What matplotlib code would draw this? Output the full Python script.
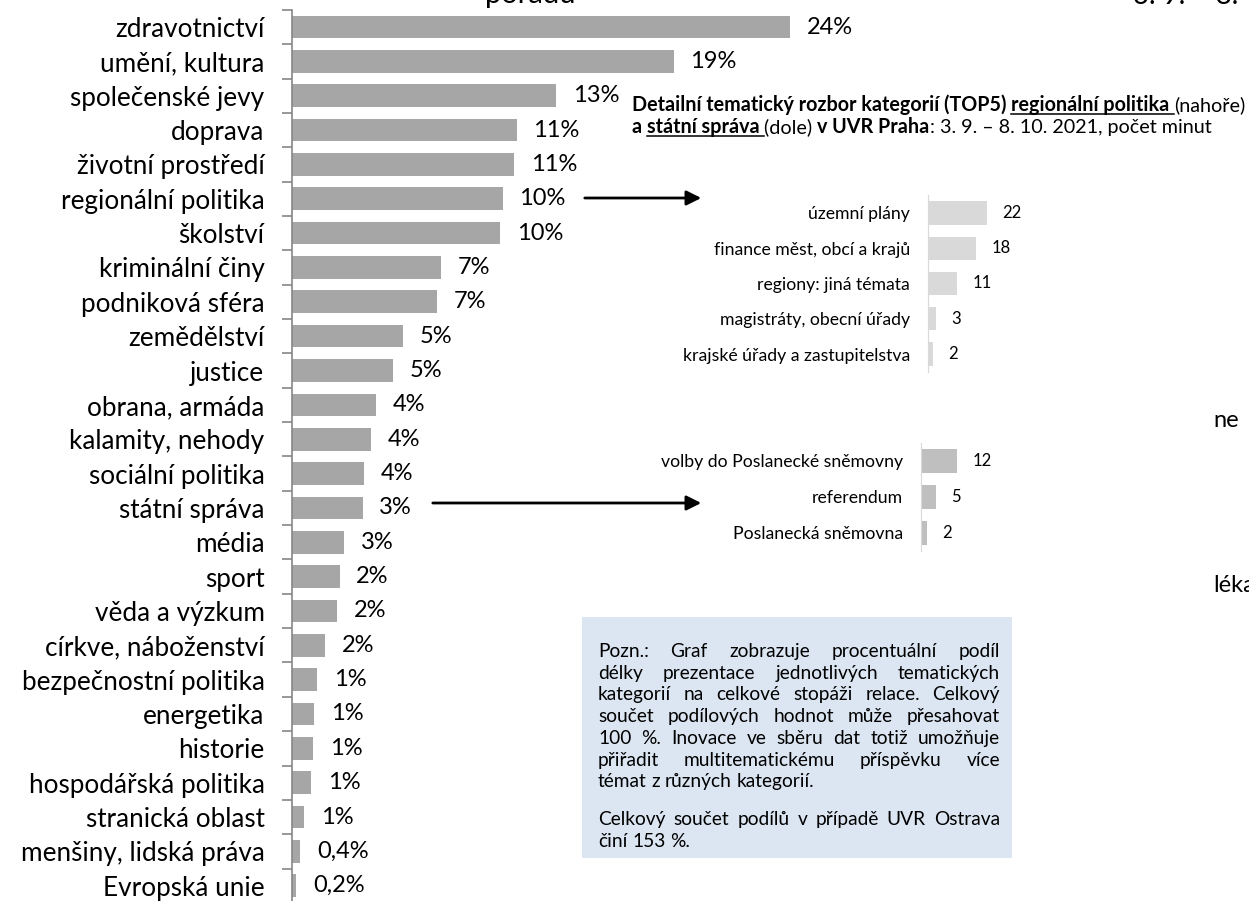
import matplotlib
matplotlib.use("Agg")
import matplotlib.pyplot as plt
from matplotlib.patches import Rectangle, FancyArrowPatch
from matplotlib.lines import Line2D

plt.rcParams['font.family'] = ['Lato', 'DejaVu Sans']

##########
## DATA ##
##########
categories = ["zdravotnictví", "umění, kultura", "společenské jevy", "doprava",
              "životní prostředí", "regionální politika", "školství", "kriminální činy",
              "podniková sféra", "zemědělství", "justice", "obrana, armáda",
              "kalamity, nehody", "sociální politika", "státní správa", "média", "sport",
              "věda a výzkum", "církve, náboženství", "bezpečnostní politika", "energetika",
              "historie", "hospodářská politika", "stranická oblast", "menšiny, lidská práva",
              "Evropská unie"]
shares = [24.4, 18.7, 12.93, 11.0, 10.87, 10.31, 10.18, 7.27, 7.08, 5.41, 4.95, 4.09,
          3.86, 3.52, 3.45, 2.55, 2.32, 2.19, 1.6, 1.21, 1.06, 1.01, 0.92, 0.57, 0.4, 0.2]

regional_topics = ["územní plány", "finance měst, obcí a krajů", "regiony: jiná témata",
                   "magistráty, obecní úřady", "krajské úřady a zastupitelstva"]
regional_minutes = [22, 18, 11, 3, 2]

state_topics = ["volby do Poslanecké sněmovny", "referendum", "Poslanecká sněmovna"]
state_minutes = [12, 5, 2]

note_lines = ["Pozn.: Graf zobrazuje procentuální podíl",
              "délky prezentace jednotlivých tematických",
              "kategorií na celkové stopáži relace. Celkový",
              "součet podílových hodnot může přesahovat",
              "100 %. Inovace ve sběru dat totiž umožňuje",
              "přiřadit multitematickému příspěvku více",
              "témat z různých kategorií.",
              "",
              "Celkový součet podílů v případě UVR Ostrava",
              "činí 153 %."]

W, H = 1249, 901
fig = plt.figure(figsize=(W / 100, H / 100), dpi=100)
renderer = fig.canvas.get_renderer()


def box(left, top, width, height):
    # pixel box (top-left origin) -> figure fraction
    return [left / W, 1 - (top + height) / H, width / W, height / H]


def fmt_share(v):
    if v >= 0.5:
        return f"{round(v)}%"
    return f"{v:.1f}%".replace(".", ",")


####################
## MAIN BAR CHART ##
####################
row = 34.35
ax = fig.add_axes(box(292.3, 27 - 0.5 * row, 600, 26 * row))
ypos = list(range(len(categories)))
ax.barh(ypos, shares, height=0.66, color="#a6a6a6")
ax.set_ylim(len(categories) - 0.5, -0.5)
ax.set_xlim(0, 600 / 20.4)
ax.set_yticks(ypos)
ax.set_yticklabels(categories, fontsize=18.8)
ax.set_yticks([i - 0.5 for i in range(len(categories) + 1)], minor=True)
ax.tick_params(axis="y", which="major", length=0, pad=20)
ax.tick_params(axis="y", which="minor", length=7, width=1.2, color="#868686")
ax.set_xticks([])
for s in ["top", "right", "bottom"]:
    ax.spines[s].set_visible(False)
ax.spines["left"].set_color("#868686")
ax.spines["left"].set_linewidth(1.2)
for i, v in enumerate(shares):
    ax.annotate(fmt_share(v), (v, i), xytext=(12, 0), textcoords="offset points",
                va="center", ha="left", fontsize=17)


##################
## INSET CHARTS ##
##################
def inset(left, top_center, step, scale, topics, minutes, color):
    n = len(topics)
    a = fig.add_axes(box(left, top_center - 0.5 * step, 120, n * step))
    a.barh(range(n), minutes, height=0.66, color=color)
    a.set_ylim(n - 0.5, -0.5)
    a.set_xlim(0, 120 / scale)
    a.set_yticks(range(n))
    a.set_yticklabels(topics, fontsize=12.7)
    a.tick_params(axis="y", length=0, pad=13)
    a.set_xticks([])
    for s in ["top", "right", "bottom"]:
        a.spines[s].set_visible(False)
    a.spines["left"].set_color("#d9d9d9")
    for i, v in enumerate(minutes):
        a.annotate(str(v), (v, i), xytext=(11, 0), textcoords="offset points",
                   va="center", ha="left", fontsize=12)
    return a


inset(928, 213, 35.25, 2.67, regional_topics, regional_minutes, "#d9d9d9")
inset(921, 461, 36, 3.0, state_topics, state_minutes, "#bfbfbf")


def pieces(x, y, parts, size=14.2):
    for txt, bold, under in parts:
        t = fig.text(x / W, 1 - y / H, txt, fontsize=size, va="baseline", ha="left",
                     fontweight="bold" if bold else "normal")
        wdt = t.get_window_extent(renderer).width
        if under:
            fig.add_artist(Line2D([x / W, (x + wdt) / W], [1 - (y + 2.5) / H] * 2,
                                  color="black", lw=1.1))
        x += wdt


pieces(632, 111, [("Detailní tematický rozbor kategorií (TOP5) ", True, False),
                  ("regionální politika ", True, True),
                  ("(nahoře)", False, False)])
pieces(632, 133, [("a ", True, False), ("státní správa ", True, True),
                  ("(dole) ", False, False), ("v UVR Praha", True, False),
                  (": 3. 9. – 8. 10. 2021, počet minut", False, False)])

# arrows
for x0, y0 in [(582, 198), (430, 503)]:
    fig.add_artist(FancyArrowPatch((x0 / W, 1 - y0 / H), (704 / W, 1 - y0 / H),
                                   transform=fig.transFigure, arrowstyle="-|>",
                                   mutation_scale=22, lw=2, color="black"))

##########
## NOTE ##
##########
fig.add_artist(Rectangle((582 / W, 1 - 858 / H), 430 / W, 241 / H,
                         transform=fig.transFigure, facecolor="#dce6f2", edgecolor="none"))


def text_width(s, size):
    t = fig.text(0, 0, s, fontsize=size)
    w = t.get_window_extent(renderer).width
    t.remove()
    return w


def note(lines, x, y, width, size, lead):
    space = text_width("a a", size) - text_width("aa", size)
    for k, line in enumerate(lines):
        words = line.split()
        if words:
            widths = [text_width(w, size) for w in words]
            nxt = lines[k + 1] if k + 1 < len(lines) else ""
            justify = nxt != "" and len(words) > 1
            gap = (width - sum(widths)) / (len(words) - 1) if justify else space
            xx = x
            for w, ww in zip(words, widths):
                fig.text(xx / W, 1 - y / H, w, fontsize=size, va="baseline", ha="left")
                xx += ww + gap
            y += lead
        else:
            y += lead * 0.75


note(note_lines, 598, 657, 402, 13.8, 21.7)

# cut-off texts from surrounding slide
fig.text(485 / W, 1 - 3 / H, "pořadu", fontsize=21, va="baseline")
fig.text(1133 / W, 1 - 4 / H, "3. 9. – 8.", fontsize=20, va="baseline")
fig.text(1213 / W, 1 - 420 / H, "ne", fontsize=17, va="center")
fig.text(1213 / W, 1 - 585 / H, "léka", fontsize=17, va="center")

fig.savefig("out.png", dpi=100)
